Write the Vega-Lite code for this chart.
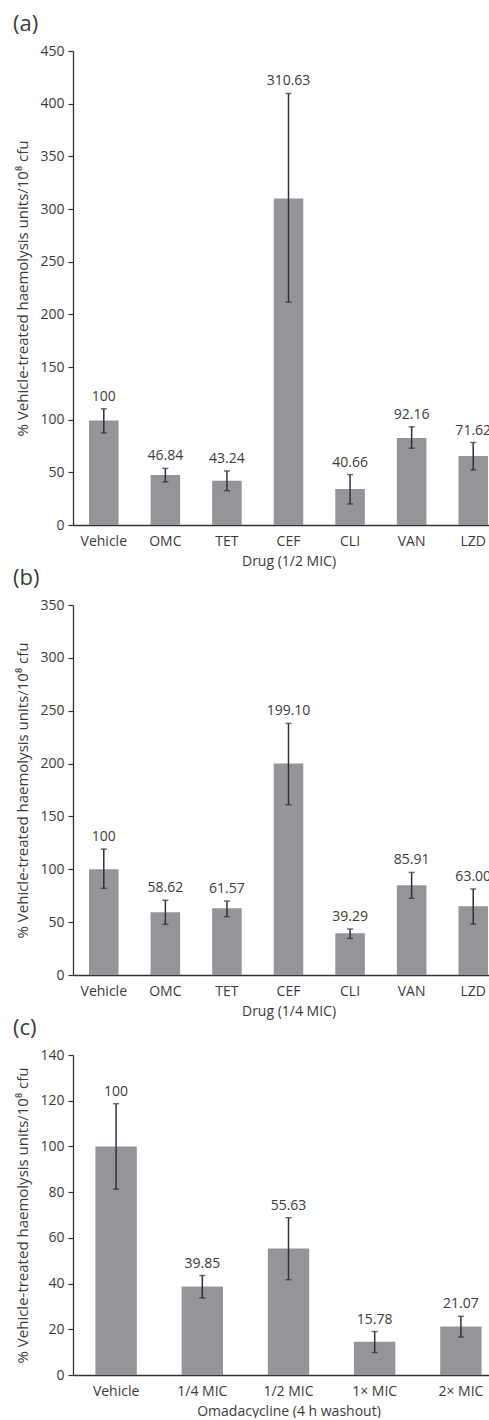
{
  "$schema": "https://vega.github.io/schema/vega-lite/v6.json",
  "padding": {"left": 13, "top": 13, "right": 0, "bottom": 0},
  "spacing": 80,
  "bounds": "flush",
  "config": {
    "font": "Open Sans",
    "view": {"stroke": null},
    "axis": {
      "labelFont": "Open Sans", "titleFont": "Open Sans",
      "labelFontSize": 14, "titleFontSize": 14,
      "labelColor": "#3c3c3c", "titleColor": "#3c3c3c",
      "titleFontWeight": "normal",
      "domainColor": "#333333", "tickColor": "#333333",
      "grid": false
    },
    "axisX": {"ticks": false, "labelAngle": 0, "labelPadding": 9, "titlePadding": 6, "domainWidth": 1.3},
    "axisY": {"tickSize": 5, "labelPadding": 4, "titlePadding": 9, "titleFontSize": 15, "domainWidth": 1.3, "tickWidth": 1.2},
    "title": {"font": "Open Sans", "fontSize": 22, "fontWeight": "normal", "color": "#3c3c3c", "anchor": "start", "frame": "group", "dx": -60, "baseline": "alphabetic", "offset": 8}
  },
  "vconcat": [
    {
      "title": {"text": "(a)"},
      "width": 431, "height": 474,
      "data": {"values": [
        {"drug": "Vehicle", "v": 99.1, "lo": 87.4, "hi": 110.3, "label": "100"},
        {"drug": "OMC", "v": 47.5, "lo": 40.9, "hi": 53.8, "label": "46.84"},
        {"drug": "TET", "v": 42.1, "lo": 32.6, "hi": 51.3, "label": "43.24"},
        {"drug": "CEF", "v": 310, "lo": 211.6, "hi": 409.7, "label": "310.63"},
        {"drug": "CLI", "v": 34.2, "lo": 20, "hi": 47.8, "label": "40.66"},
        {"drug": "VAN", "v": 82.7, "lo": 72.9, "hi": 93.2, "label": "92.16"},
        {"drug": "LZD", "v": 65.6, "lo": 52.3, "hi": 78.3, "label": "71.62"}
      ]},
      "encoding": {"x": {"field": "drug", "type": "nominal", "sort": null, "scale": {"paddingInner": 0.52, "paddingOuter": 0.26}, "axis": {"title": "Drug (1/2 MIC)"}}},
      "layer": [
        {"mark": {"type": "bar", "color": "#939598"},
         "encoding": {"y": {"field": "v", "type": "quantitative", "title": "% Vehicle-treated haemolysis units/10⁸ cfu", "scale": {"domain": [0, 450]}, "axis": {"values": [0, 50, 100, 150, 200, 250, 300, 350, 400, 450]}}}},
        {"mark": {"type": "errorbar", "ticks": {"size": 6}, "color": "#333333", "thickness": 1.5},
         "encoding": {"y": {"field": "lo", "type": "quantitative", "title": "% Vehicle-treated haemolysis units/10⁸ cfu"}, "y2": {"field": "hi"}}},
        {"mark": {"type": "text", "dy": -8, "baseline": "alphabetic", "fontSize": 14, "color": "#3c3c3c"},
         "encoding": {"y": {"field": "hi", "type": "quantitative", "title": "% Vehicle-treated haemolysis units/10⁸ cfu"}, "text": {"field": "label", "type": "nominal"}}}
      ]
    },
    {
      "title": {"text": "(b)"},
      "width": 431, "height": 370,
      "data": {"values": [
        {"drug": "Vehicle", "v": 100.1, "lo": 82, "hi": 119.1, "label": "100"},
        {"drug": "OMC", "v": 59.3, "lo": 47.9, "hi": 70.7, "label": "58.62"},
        {"drug": "TET", "v": 63.1, "lo": 55.2, "hi": 70, "label": "61.57"},
        {"drug": "CEF", "v": 200, "lo": 161.1, "hi": 238, "label": "199.10"},
        {"drug": "CLI", "v": 39.4, "lo": 34.6, "hi": 43.5, "label": "39.29"},
        {"drug": "VAN", "v": 84.9, "lo": 72.6, "hi": 97, "label": "85.91"},
        {"drug": "LZD", "v": 65, "lo": 48.2, "hi": 81.4, "label": "63.00"}
      ]},
      "encoding": {"x": {"field": "drug", "type": "nominal", "sort": null, "scale": {"paddingInner": 0.52, "paddingOuter": 0.26}, "axis": {"title": "Drug (1/4 MIC)"}}},
      "layer": [
        {"mark": {"type": "bar", "color": "#939598"},
         "encoding": {"y": {"field": "v", "type": "quantitative", "title": "% Vehicle-treated haemolysis units/10⁸ cfu", "scale": {"domain": [0, 350]}, "axis": {"values": [0, 50, 100, 150, 200, 250, 300, 350]}}}},
        {"mark": {"type": "errorbar", "ticks": {"size": 6}, "color": "#333333", "thickness": 1.5},
         "encoding": {"y": {"field": "lo", "type": "quantitative", "title": "% Vehicle-treated haemolysis units/10⁸ cfu"}, "y2": {"field": "hi"}}},
        {"mark": {"type": "text", "dy": -8, "baseline": "alphabetic", "fontSize": 14, "color": "#3c3c3c"},
         "encoding": {"y": {"field": "hi", "type": "quantitative", "title": "% Vehicle-treated haemolysis units/10⁸ cfu"}, "text": {"field": "label", "type": "nominal"}}}
      ]
    },
    {
      "title": {"text": "(c)"},
      "width": 431, "height": 320,
      "data": {"values": [
        {"drug": "Vehicle", "v": 100, "lo": 81.3, "hi": 118.7, "label": "100"},
        {"drug": "1/4 MIC", "v": 38.7, "lo": 33.7, "hi": 43.5, "label": "39.85"},
        {"drug": "1/2 MIC", "v": 55.3, "lo": 41.7, "hi": 68.8, "label": "55.63"},
        {"drug": "1× MIC", "v": 14.6, "lo": 9.8, "hi": 19, "label": "15.78"},
        {"drug": "2× MIC", "v": 21.2, "lo": 16.6, "hi": 25.7, "label": "21.07"}
      ]},
      "encoding": {"x": {"field": "drug", "type": "nominal", "sort": null, "scale": {"paddingInner": 0.52, "paddingOuter": 0.26}, "axis": {"title": "Omadacycline (4 h washout)"}}},
      "layer": [
        {"mark": {"type": "bar", "color": "#939598"},
         "encoding": {"y": {"field": "v", "type": "quantitative", "title": "% Vehicle-treated haemolysis units/10⁸ cfu", "scale": {"domain": [0, 140]}, "axis": {"values": [0, 20, 40, 60, 80, 100, 120, 140]}}}},
        {"mark": {"type": "errorbar", "ticks": {"size": 6}, "color": "#333333", "thickness": 1.5},
         "encoding": {"y": {"field": "lo", "type": "quantitative", "title": "% Vehicle-treated haemolysis units/10⁸ cfu"}, "y2": {"field": "hi"}}},
        {"mark": {"type": "text", "dy": -8, "baseline": "alphabetic", "fontSize": 14, "color": "#3c3c3c"},
         "encoding": {"y": {"field": "hi", "type": "quantitative", "title": "% Vehicle-treated haemolysis units/10⁸ cfu"}, "text": {"field": "label", "type": "nominal"}}}
      ]
    }
  ]
}
